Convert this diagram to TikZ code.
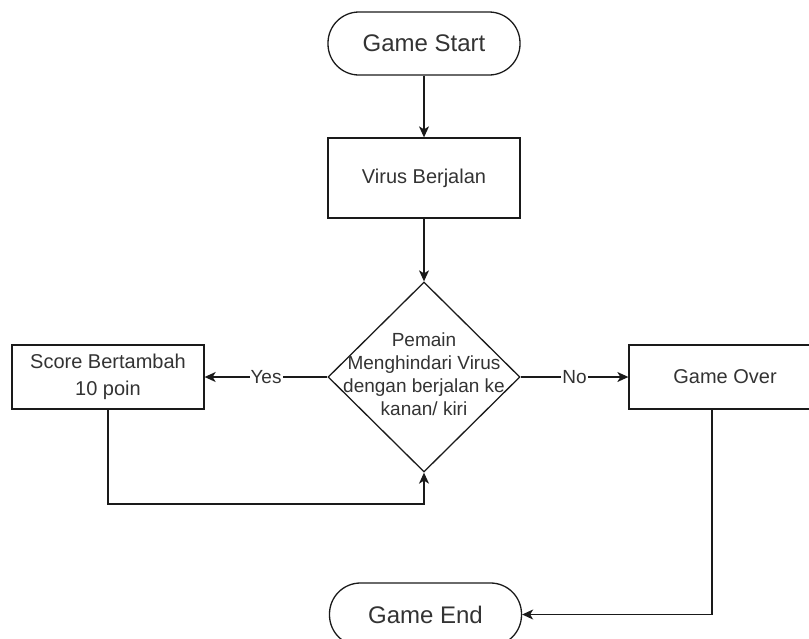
\documentclass[tikz,border=0pt]{standalone}
\usepackage{fontspec}
\setmainfont{Liberation Sans}
\usetikzlibrary{shapes.geometric,arrows.meta,positioning,calc}
\definecolor{txt}{HTML}{333333}
\definecolor{ln}{HTML}{1A1A1A}
\begin{document}
\begin{tikzpicture}[x=1pt,y=-1pt,
  every node/.style={text=txt},
  term/.style={draw=ln, line width=1.3pt, rounded corners=31pt, minimum width=192pt, minimum height=63pt, inner sep=0pt, font=\fontsize{24}{28}\selectfont},
  proc/.style={draw=ln, line width=1.3pt, minimum width=192pt, minimum height=64pt, inner sep=0pt, align=center, font=\fontsize{20}{27}\selectfont},
  decis/.style={draw=ln, line width=1.3pt, diamond, minimum width=192pt, minimum height=190pt, inner sep=0pt},
  arr/.style={draw=ln, line width=1.3pt, -{Stealth[length=11pt,width=10pt,inset=3pt]}},
  lbl/.style={fill=white, inner sep=1pt, font=\fontsize{19}{22}\selectfont}
]
\useasboundingbox (0,0) rectangle (809,638);

\node[term] (start) at (424,43.5) {Game Start};
\node[proc, minimum height=80pt] (virus) at (424,178) {Virus Berjalan};
\node[decis] (dec) at (424,377) {};
\node[align=center, inner sep=0pt, font=\fontsize{19}{23}\selectfont] (dectext) at (424,374) {Pemain\\Menghindari Virus\\dengan berjalan ke\\kanan/ kiri};
\node[proc] (score) at (108,377) {Score Bertambah\\10 poin};
\node[proc] (over) at (725,377) {Game Over};
\node[term] (end) at (425.5,614.5) {Game End};

\coordinate (loop) at (424,504);
\coordinate (overexit) at (712,409);

\draw[arr] (start) -- (virus);
\draw[arr] (virus) -- (dec.north);
\draw[arr] (dec.west) -- node[lbl] {Yes} (score.east);
\draw[arr] (dec.east) -- node[lbl] {No} (over.west);
\draw[arr] (score.south) |- (loop) -- (dec.south);
\draw[arr] (overexit) |- (end.east);
\end{tikzpicture}
\end{document}
